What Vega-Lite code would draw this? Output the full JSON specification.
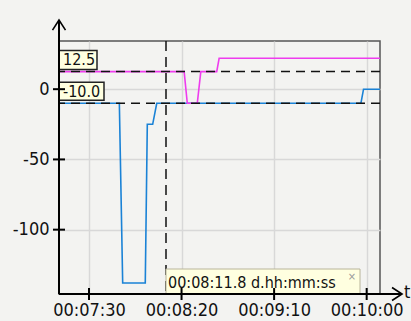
{
  "$schema": "https://vega.github.io/schema/vega-lite/v6.json",
  "width": 321,
  "height": 253,
  "autosize": {"type": "none"},
  "padding": {"left": 59, "top": 41, "right": 31, "bottom": 27},
  "background": "#f3f3f1",
  "config": {
    "view": {"stroke": "#555555", "strokeWidth": 1.5, "fill": "#f3f3f1"},
    "axis": {
      "labelFont": "DejaVu Sans Condensed",
      "labelFontSize": 18,
      "labelColor": "#111111",
      "domain": false,
      "ticks": false,
      "grid": true,
      "gridColor": "#d8d8d8",
      "gridWidth": 1.5,
      "title": null
    },
    "text": {"font": "DejaVu Sans Condensed"}
  },
  "datasets": {
    "series": [
      {"t": 433.8, "v": -10, "s": "a"},
      {"t": 466.4, "v": -10, "s": "a"},
      {"t": 468.2, "v": -138, "s": "a"},
      {"t": 480.4, "v": -138, "s": "a"},
      {"t": 481.5, "v": -25, "s": "a"},
      {"t": 484.4, "v": -25, "s": "a"},
      {"t": 486.6, "v": -10, "s": "a"},
      {"t": 596.9, "v": -10, "s": "a"},
      {"t": 598.3, "v": 0, "s": "a"},
      {"t": 607.2, "v": 0, "s": "a"},
      {"t": 433.8, "v": 12.5, "s": "b"},
      {"t": 501.4, "v": 12.5, "s": "b"},
      {"t": 503.1, "v": -10, "s": "b"},
      {"t": 508.5, "v": -10, "s": "b"},
      {"t": 510.4, "v": 12.5, "s": "b"},
      {"t": 519.0, "v": 12.5, "s": "b"},
      {"t": 520.3, "v": 22, "s": "b"},
      {"t": 607.2, "v": 22, "s": "b"}
    ],
    "thresholds": [
      {"v": 12.5, "label": "12.5"},
      {"v": -10, "label": "-10.0"}
    ],
    "cursor": [{"t": 491.6, "label": "00:08:11.8 d.hh:mm:ss"}],
    "yticks": [{"v": -100}, {"v": -50}, {"v": 0}],
    "xticks": [{"t": 450}, {"t": 500}, {"t": 550}, {"t": 600}],
    "one": [{}]
  },
  "layer": [
    {
      "data": {"name": "series"},
      "mark": {"type": "rule", "color": "#555555", "strokeWidth": 1.5},
      "encoding": {
        "x": {"field": "t", "type": "quantitative", "scale": {"domain": [433.8, 607.2], "nice": false, "zero": false},
          "axis": {"values": [450, 500, 550, 600], "labelExpr": "utcFormat(datum.value * 1000, '%H:%M:%S')", "labelPadding": 7}},
        "y": {"datum": 0, "type": "quantitative", "scale": {"domain": [-145.8, 34.3], "nice": false, "zero": false},
          "axis": {"values": [-100, -50, 0], "labelExpr": "datum.value < 0 ? '-' + abs(datum.value) : '' + datum.value", "labelPadding": 10}}
      }
    },
    {
      "data": {"name": "series"},
      "mark": {"type": "line", "strokeWidth": 1.6, "interpolate": "linear"},
      "encoding": {
        "x": {"field": "t", "type": "quantitative"},
        "y": {"field": "v", "type": "quantitative"},
        "color": {"field": "s", "type": "nominal", "scale": {"domain": ["a", "b"], "range": ["#1a82d6", "#ee3cee"]}, "legend": null}
      }
    },
    {
      "data": {"name": "thresholds"},
      "mark": {"type": "rule", "color": "#111111", "strokeWidth": 1.5, "strokeDash": [9, 6]},
      "encoding": {"y": {"field": "v", "type": "quantitative"}}
    },
    {
      "data": {"name": "cursor"},
      "mark": {"type": "rule", "color": "#111111", "strokeWidth": 1.5, "strokeDash": [10, 6]},
      "encoding": {"x": {"field": "t", "type": "quantitative"}}
    },
    {
      "data": {"name": "thresholds"},
      "transform": [{"filter": "datum.v == 12.5"}],
      "mark": {"type": "rect", "fill": "#ffffe0", "stroke": "#222222", "strokeWidth": 1.5, "width": 38, "height": 19, "xOffset": 19, "yOffset": -11.5},
      "encoding": {"x": {"datum": 433.8, "type": "quantitative"}, "y": {"field": "v", "type": "quantitative"}}
    },
    {
      "data": {"name": "thresholds"},
      "transform": [{"filter": "datum.v == -10"}],
      "mark": {"type": "rect", "fill": "#ffffe0", "stroke": "#222222", "strokeWidth": 1.5, "width": 45, "height": 18, "xOffset": 22.5, "yOffset": -12},
      "encoding": {"x": {"datum": 433.8, "type": "quantitative"}, "y": {"field": "v", "type": "quantitative"}}
    },
    {
      "data": {"name": "thresholds"},
      "mark": {"type": "text", "align": "left", "baseline": "middle", "fontSize": 16, "dx": 4, "dy": -11.5, "color": "#111111"},
      "encoding": {"x": {"datum": 433.8, "type": "quantitative"}, "y": {"field": "v", "type": "quantitative"}, "text": {"field": "label"}}
    },
    {
      "data": {"name": "cursor"},
      "mark": {"type": "rect", "fill": "#ffffe0", "stroke": "#b8b49a", "strokeWidth": 1, "width": 194, "height": 25, "xOffset": 97, "yOffset": -12.5},
      "encoding": {"x": {"field": "t", "type": "quantitative"}, "y": {"datum": -145.8, "type": "quantitative"}}
    },
    {
      "data": {"name": "cursor"},
      "mark": {"type": "text", "align": "left", "baseline": "middle", "fontSize": 16, "dx": 2, "dy": -11, "color": "#111111"},
      "encoding": {"x": {"field": "t", "type": "quantitative"}, "y": {"datum": -145.8, "type": "quantitative"}, "text": {"field": "label"}}
    },
    {
      "data": {"name": "cursor"},
      "mark": {"type": "text", "align": "center", "baseline": "middle", "fontSize": 11, "dx": 186, "dy": -17, "color": "#999999", "text": "×"},
      "encoding": {"x": {"field": "t", "type": "quantitative"}, "y": {"datum": -145.8, "type": "quantitative"}}
    },
    {
      "data": {"name": "one"},
      "mark": {"type": "rule", "color": "#000000", "strokeWidth": 2},
      "encoding": {"x": {"datum": 433.8, "type": "quantitative"}, "y": {"datum": -145.8, "type": "quantitative"}, "y2": {"datum": 49.2}}
    },
    {
      "data": {"name": "one"},
      "mark": {"type": "rule", "color": "#000000", "strokeWidth": 2},
      "encoding": {"x": {"datum": 433.8, "type": "quantitative"}, "x2": {"datum": 619.1}, "y": {"datum": -145.8, "type": "quantitative"}}
    },
    {
      "data": {"name": "one"},
      "mark": {"type": "point", "shape": "M-0.65,1L0,0L0.65,1", "size": 400, "filled": false, "stroke": "#000000", "strokeWidth": 1.6, "opacity": 1},
      "encoding": {"x": {"datum": 433.8, "type": "quantitative"}, "y": {"datum": 49.2, "type": "quantitative"}}
    },
    {
      "data": {"name": "one"},
      "mark": {"type": "point", "shape": "M-1,-0.65L0,0L-1,0.65", "size": 400, "filled": false, "stroke": "#000000", "strokeWidth": 1.6, "opacity": 1},
      "encoding": {"x": {"datum": 619.1, "type": "quantitative"}, "y": {"datum": -145.8, "type": "quantitative"}}
    },
    {
      "data": {"name": "one"},
      "mark": {"type": "text", "text": "t", "align": "left", "baseline": "middle", "fontSize": 18, "dx": 2, "dy": -1, "color": "#111111"},
      "encoding": {"x": {"datum": 619.1, "type": "quantitative"}, "y": {"datum": -145.8, "type": "quantitative"}}
    },
    {
      "data": {"name": "yticks"},
      "mark": {"type": "tick", "orient": "horizontal", "size": 12, "thickness": 2, "color": "#000000", "opacity": 1},
      "encoding": {"x": {"datum": 433.8, "type": "quantitative"}, "y": {"field": "v", "type": "quantitative"}}
    },
    {
      "data": {"name": "xticks"},
      "mark": {"type": "tick", "orient": "vertical", "size": 12, "thickness": 2, "color": "#000000", "opacity": 1},
      "encoding": {"x": {"field": "t", "type": "quantitative"}, "y": {"datum": -145.8, "type": "quantitative"}}
    }
  ]
}
